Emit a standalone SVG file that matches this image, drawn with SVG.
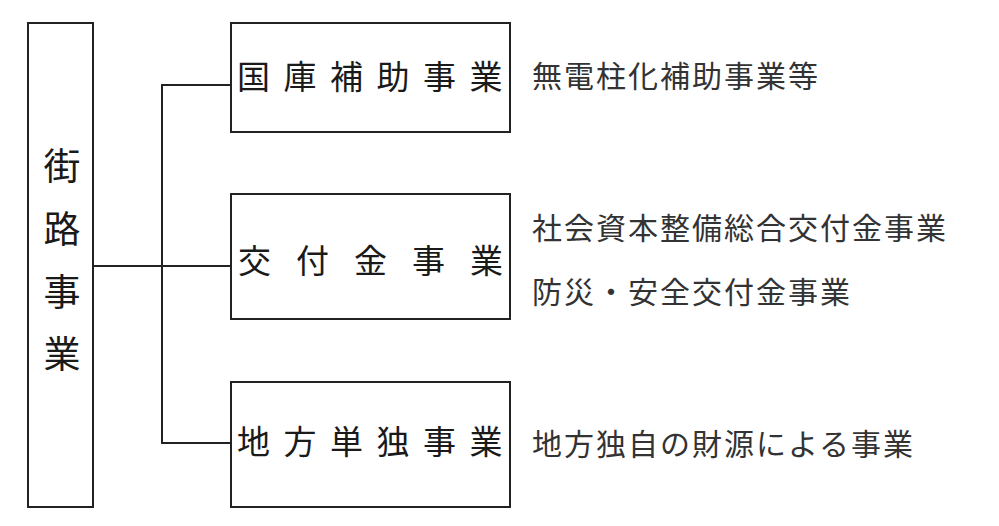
<svg xmlns="http://www.w3.org/2000/svg" width="999" height="526" viewBox="0 0 999 526">
<style>
.box{fill:#fff;stroke:#222;stroke-width:2}
.ln{fill:none;stroke:#222;stroke-width:2}
text{font-family:"Noto Sans CJK JP","Noto Sans CJK SC",sans-serif;fill:#1a1a1a;dominant-baseline:central}
.big{font-size:37px;text-anchor:middle}
.bt{font-size:33px}
.sp1{letter-spacing:13.5px}
.sp2{letter-spacing:25px}
.note{font-size:30px;letter-spacing:2px;fill:#333}
</style>
<rect width="999" height="526" fill="#fff"/>
<g id="connectors">
<path class="ln" d="M93 266H231"/>
<path class="ln" d="M231 85H162V443H231"/>
</g>
<g id="gairo">
<rect class="box" x="28" y="23" width="65" height="484"/>
<text class="big" x="62" y="164">街</text>
<text class="big" x="62" y="227">路</text>
<text class="big" x="62" y="290">事</text>
<text class="big" x="62" y="352">業</text>
</g>
<g id="kokko">
<rect class="box" x="231" y="23" width="279" height="109"/>
<text class="bt sp1" x="237" y="75">国庫補助事業</text>
<text class="note" x="532" y="74">無電柱化補助事業等</text>
</g>
<g id="kofukin">
<rect class="box" x="231" y="194" width="279" height="125"/>
<text class="bt sp2" x="238" y="259">交付金事業</text>
<text class="note" x="532" y="226">社会資本整備総合交付金事業</text>
<text class="note" x="532" y="290">防災・安全交付金事業</text>
</g>
<g id="tandoku">
<rect class="box" x="231" y="382" width="279" height="125"/>
<text class="bt sp1" x="237" y="440">地方単独事業</text>
<text class="note" x="532" y="442">地方独自の財源による事業</text>
</g>
</svg>
